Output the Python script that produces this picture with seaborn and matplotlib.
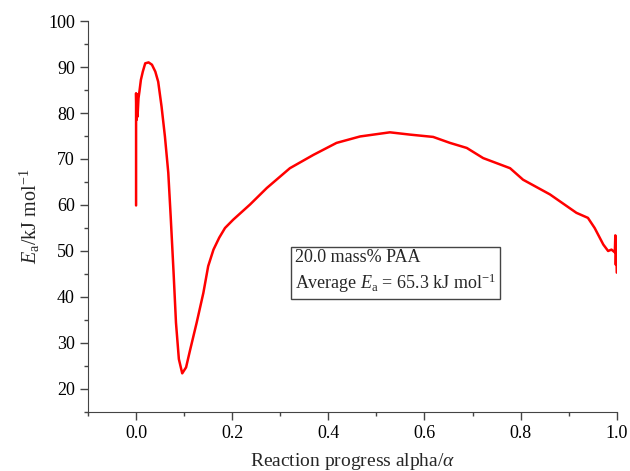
import numpy as np
import pandas as pd
import matplotlib
matplotlib.use("Agg")
import matplotlib.pyplot as plt
import seaborn as sns
from matplotlib.ticker import MultipleLocator

# values
alpha = [0.0, 0.0, 0.001, 0.002, 0.003, 0.005, 0.007, 0.010, 0.014, 0.019,
         0.026, 0.033, 0.040, 0.046, 0.053, 0.060, 0.067, 0.072, 0.078, 0.083,
         0.089, 0.096, 0.104, 0.112, 0.126, 0.140, 0.150, 0.161, 0.173, 0.185,
         0.202, 0.237, 0.272, 0.320, 0.369, 0.417, 0.466, 0.528, 0.570, 0.618,
         0.653, 0.688, 0.722, 0.778, 0.805, 0.861, 0.916, 0.940, 0.954, 0.972,
         0.982, 0.989, 0.996, 0.997, 0.998, 0.999, 1.0]
ea = [59.9, 84.3, 78.5, 84.0, 79.2, 83.2, 84.7, 87.2, 89.0, 90.8,
      91.0, 90.5, 89.0, 86.8, 81.4, 74.9, 67.0, 57.5, 45.3, 34.4,
      26.5, 23.4, 24.7, 28.3, 34.4, 40.9, 46.7, 50.3, 52.9, 55.0,
      56.8, 60.1, 63.7, 68.0, 70.9, 73.5, 74.9, 75.8, 75.3, 74.8,
      73.5, 72.4, 70.2, 68.0, 65.5, 62.3, 58.3, 57.2, 55.0, 51.4,
      50.0, 50.3, 49.7, 53.4, 47.0, 51.0, 45.3]

x_ticks = [0.0, 0.2, 0.4, 0.6, 0.8, 1.0]
y_ticks = [20, 30, 40, 50, 60, 70, 80, 90, 100]
box_lines = ["20.0 mass% PAA", r"Average $E_\mathrm{a}$ = 65.3 kJ mol$^{-1}$"]

df = pd.DataFrame({"alpha": alpha, "Ea": ea})

sns.set_style("ticks")
plt.rcParams["font.family"] = ["Liberation Serif", "DejaVu Serif"]
plt.rcParams["mathtext.fontset"] = "custom"
plt.rcParams["mathtext.rm"] = "Liberation Serif"
plt.rcParams["mathtext.it"] = "Liberation Serif:italic"

fig = plt.figure(figsize=(6.3, 4.71), dpi=100)
ax = fig.add_axes([0.1397, 0.1253, 0.8393, 0.8301])

sns.lineplot(data=df, x="alpha", y="Ea", sort=False, estimator=None,
             color="red", linewidth=1.8, ax=ax)

ax.set_xlim(-0.1, 1.0)
ax.set_ylim(15, 100)
ax.set_xticks(x_ticks)
ax.set_yticks(y_ticks)
ax.xaxis.set_minor_locator(MultipleLocator(0.1))
ax.yaxis.set_minor_locator(MultipleLocator(5))
ax.tick_params(which="major", direction="out", length=6, width=1,
               color="#444444", labelsize=13, labelcolor="black")
ax.tick_params(which="minor", direction="out", length=3, width=1, color="#444444")
for s in ["left", "bottom"]:
    ax.spines[s].set_color("#444444")
sns.despine(ax=ax)

ax.set_xlabel(r"Reaction progress alpha/$\alpha$", fontsize=14, labelpad=6)
ax.set_ylabel(r"$E_\mathrm{a}$/kJ mol$^{-1}$", fontsize=14.5, labelpad=4)

ax.text(0.392, 0.298, "\n".join(box_lines), transform=ax.transAxes,
        fontsize=13, va="bottom", ha="left", linespacing=1.35,
        bbox=dict(boxstyle="square,pad=0.22", fc="white", ec="#444444", lw=1))

fig.savefig("out.png", dpi=100)
